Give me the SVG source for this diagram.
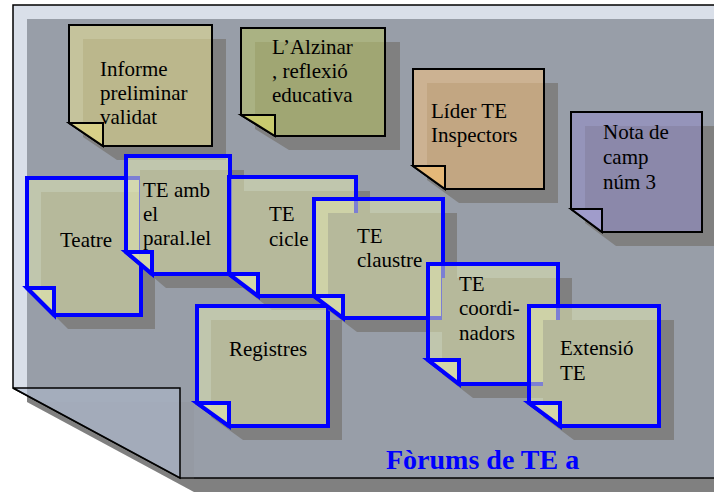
<svg xmlns="http://www.w3.org/2000/svg" width="714" height="493" viewBox="0 0 714 493">
<style>
.pshadow{fill:#808080}
.page{fill:#B2BED2;fill-opacity:.49;stroke:#000;stroke-width:1.5}
.flapsh{fill:#808080;fill-opacity:.12}
.flap{fill:#B2BED2;fill-opacity:.49;stroke:#000;stroke-width:1.5}
.sh{fill:#808080}
.bn{fill:#E1E8B1;fill-opacity:.55;stroke:#0000FF;stroke-width:4}
.bf{fill:#D8DCAA;fill-opacity:.85;stroke:#0000FF;stroke-width:4}
.kn{stroke:#000;stroke-width:2;fill-opacity:.6}
.kf{stroke:#000;stroke-width:2}
.t{font-family:"Liberation Serif","Times New Roman",serif;font-size:21px;fill:#000}
.title{font-family:"Liberation Serif","Times New Roman",serif;font-size:28px;font-weight:bold;fill:#0000FF}
</style>
<g id="page">
<polygon class="pshadow" points="27,19 744,19 744,492 194,492 27,402"/>
<polygon class="page" points="13,5 730,5 730,478 180,478 13,388"/>
<polygon class="flapsh" points="27,402 194,402 194,492"/>
<polygon class="flap" points="13,388 180,388 180,478"/>
</g>
<g id="n-informe">
<polygon class="sh" points="83,39 226,39 226,160 117,160 83,137"/>
<polygon class="kn" fill="#E2DC94" points="69,25 212,25 212,146 103,146 69,123"/>
<polygon class="kf" fill="#D8D088" points="69,123 103,123 103,146"/>
<text class="t" x="100" y="76">Informe</text>
<text class="t" x="100" y="100">preliminar</text>
<text class="t" x="100" y="124">validat</text>
</g>
<g id="n-alzinar">
<polygon class="sh" points="255,42 400,42 400,150 289,150 255,129"/>
<polygon class="kn" fill="#B5BF6A" points="241,28 385,28 385,136 275,136 241,115"/>
<polygon class="kf" fill="#C9CB6F" points="241,115 275,115 275,136"/>
<text class="t" x="272" y="54">L’Alzinar</text>
<text class="t" x="272" y="78">, reflexió</text>
<text class="t" x="272" y="102">educativa</text>
</g>
<g id="n-lider">
<polygon class="sh" points="427,83 558,83 558,203 459,203 427,180"/>
<polygon class="kn" fill="#EFBF83" points="413,69 544,69 544,189 445,189 413,166"/>
<polygon class="kf" fill="#E5B878" points="413,166 445,166 445,189"/>
<text class="t" x="431" y="118">Líder TE</text>
<text class="t" x="431" y="142">Inspectors</text>
</g>
<g id="n-nota">
<polygon class="sh" points="585,126 716,126 716,246 616,246 585,223"/>
<polygon class="kn" fill="#938DC6" points="571,112 702,112 702,232 602,232 571,209"/>
<polygon class="kf" fill="#A09CCB" points="571,209 602,209 602,232"/>
<text class="t" x="603" y="139">Nota de</text>
<text class="t" x="603" y="164">camp</text>
<text class="t" x="603" y="189">núm 3</text>
</g>
<g id="n-teatre">
<polygon class="sh" points="41,192 155,192 155,329 68,329 41,302"/>
<polygon class="bn" points="27,178 141,178 141,315 54,315 27,288"/>
<polygon class="bf" points="27,288 54,288 54,315"/>
<text class="t" x="60" y="247">Teatre</text>
</g>
<g id="n-paralel">
<polygon class="sh" points="140,170 244,170 244,288 166,288 140,266"/>
<polygon class="bn" points="126,156 230,156 230,274 152,274 126,252"/>
<polygon class="bf" points="126,252 152,252 152,274"/>
<text class="t" x="143" y="197">TE amb</text>
<text class="t" x="143" y="221">el</text>
<text class="t" x="143" y="245">paral.lel</text>
</g>
<g id="n-cicle">
<polygon class="sh" points="243,191 370,191 370,310 272,310 243,288"/>
<polygon class="bn" points="229,177 356,177 356,296 258,296 229,274"/>
<polygon class="bf" points="229,274 258,274 258,296"/>
<text class="t" x="269" y="221">TE</text>
<text class="t" x="269" y="246">cicle</text>
</g>
<g id="n-registres">
<polygon class="sh" points="211,320 342,320 342,440 243,440 211,417"/>
<polygon class="bn" points="197,306 328,306 328,426 229,426 197,403"/>
<polygon class="bf" points="197,403 229,403 229,426"/>
<text class="t" x="229" y="356">Registres</text>
</g>
<g id="n-claustre">
<polygon class="sh" points="328,213 457,213 457,332 357,332 328,310"/>
<polygon class="bn" points="314,199 443,199 443,318 343,318 314,296"/>
<polygon class="bf" points="314,296 343,296 343,318"/>
<text class="t" x="357" y="243">TE</text>
<text class="t" x="357" y="267">claustre</text>
</g>
<g id="n-coordinadors">
<polygon class="sh" points="442,278 572,278 572,398 473,398 442,374"/>
<polygon class="bn" points="428,264 558,264 558,384 459,384 428,360"/>
<polygon class="bf" points="428,360 459,360 459,384"/>
<text class="t" x="459" y="291">TE</text>
<text class="t" x="459" y="315">coordi-</text>
<text class="t" x="459" y="340">nadors</text>
</g>
<g id="n-extensio">
<polygon class="sh" points="543,320 674,320 674,440 574,440 543,417"/>
<polygon class="bn" points="529,306 659,306 659,426 560,426 529,403"/>
<polygon class="bf" points="529,403 560,403 560,426"/>
<text class="t" x="560" y="355">Extensió</text>
<text class="t" x="560" y="380">TE</text>
</g>
<g id="connectors"></g>
<text id="title" class="title" x="386" y="469">Fòrums de TE a</text>
</svg>
